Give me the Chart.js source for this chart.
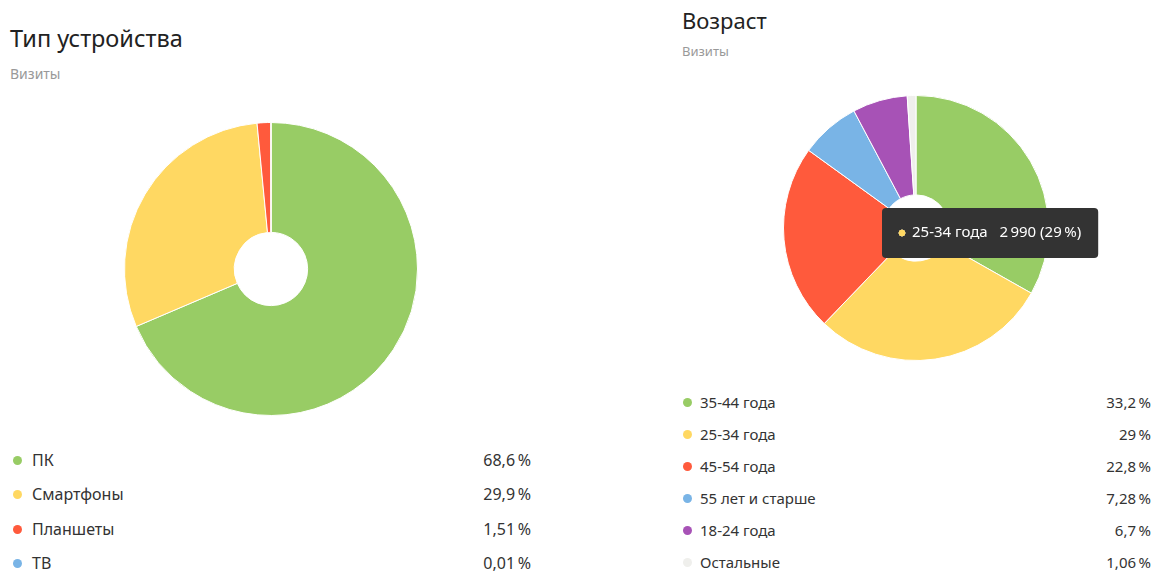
<!DOCTYPE html>
<html>
<head>
<meta charset="utf-8">
<script src="https://cdn.jsdelivr.net/npm/chart.js@4/dist/chart.umd.min.js"></script>
<style>
body { margin: 0; background: #fff; font-family: "Noto Sans", sans-serif; color: #222; }
#page { position: relative; width: 1156px; height: 572px; overflow: hidden; }
.title { position: absolute; font-size: 22px; color: #222; white-space: nowrap; }
.sub { position: absolute; font-size: 13px; color: #999; }
.legend { position: absolute; }
.row { position: absolute; left: 0; right: 0; height: 20px; font-size: 15px; line-height: 20px; color: #333; }
.big .row { font-size: 16px; }
.dot { position: absolute; left: 0; top: 6px; width: 9px; height: 9px; border-radius: 50%; }
.lbl { position: absolute; white-space: nowrap; }
.pct { position: absolute; right: 0; white-space: nowrap; }
canvas { position: absolute; }
</style>
</head>
<body>
<div id="page">
  <div class="title" style="left:10px;top:22px;font-size:23.5px;">Тип устройства</div>
  <div class="sub" style="left:10px;top:64px;font-size:14px;">Визиты</div>
  <canvas id="deviceChart" style="left:124px;top:122px;width:294px;height:294px;"></canvas>
  <div class="legend big" id="deviceLegend" style="left:13px;top:450px;width:518px;"></div>

  <div class="title" style="left:682px;top:5px;">Возраст</div>
  <div class="sub" style="left:682px;top:42px;">Визиты</div>
  <canvas id="ageChart" style="left:783px;top:95px;width:322px;height:276px;"></canvas>
  <div class="legend" id="ageLegend" style="left:683px;top:392px;width:468px;"></div>
</div>

<script>
// Тип устройства, % визитов
const deviceLabels = ["ПК", "Смартфоны", "Планшеты", "ТВ"];
const deviceShare = [68.6, 29.9, 1.51, 0.01];
const deviceColors = ["#98cc65", "#ffd862", "#ff5a3c", "#79b4e6"];

// Возраст, % визитов
const ageLabels = ["35-44 года", "25-34 года", "45-54 года", "55 лет и старше", "18-24 года", "Остальные"];
const ageShare = [33.2, 29, 22.8, 7.28, 6.7, 1.06];
const ageColors = ["#98cc65", "#ffd862", "#ff5a3c", "#79b4e6", "#a752b6", "#efefec"];
const ageTotalVisits = 10310;

function fmtPct(v) {
    return String(v).replace(".", ",") + "\u2009%";
}

function fmtNum(n) {
    return String(n).replace(/\B(?=(\d{3})+(?!\d))/g, "\u2009");
}

function buildLegend(el, labels, values, colors, step, labelOffset) {
    labels.forEach(function (name, i) {
        let row = document.createElement("div");
        row.className = "row";
        row.style.top = (i * step) + "px";
        row.innerHTML =
            '<span class="dot" style="background:' + colors[i] + '"></span>' +
            '<span class="lbl" style="left:' + labelOffset + 'px">' + name + '</span>' +
            '<span class="pct">' + fmtPct(values[i]) + '</span>';
        el.appendChild(row);
    });
}

buildLegend(document.getElementById("deviceLegend"), deviceLabels, deviceShare, deviceColors, 34.3, 19);
buildLegend(document.getElementById("ageLegend"), ageLabels, ageShare, ageColors, 32, 17);

Chart.Tooltip.positioners.fixedSpot = function () {
    return { x: 99, y: 138 };
};

function doughnutOptions(extra) {
    return Object.assign({
        responsive: false,
        animation: false,
        cutout: "25%",
        events: [],
        plugins: {
            legend: { display: false },
            tooltip: { enabled: false }
        }
    }, extra);
}

new Chart(document.getElementById("deviceChart"), {
    type: "doughnut",
    data: {
        labels: deviceLabels,
        datasets: [{
            data: deviceShare,
            backgroundColor: deviceColors,
            borderColor: "#ffffff",
            borderWidth: 1,
            hoverOffset: 0
        }]
    },
    options: doughnutOptions({})
});

const ageChart = new Chart(document.getElementById("ageChart"), {
    type: "doughnut",
    data: {
        labels: ageLabels,
        datasets: [{
            data: ageShare,
            backgroundColor: ageColors,
            hoverBackgroundColor: ageColors,
            borderColor: "#ffffff",
            borderWidth: 1,
            hoverOffset: 0
        }]
    },
    options: doughnutOptions({
        layout: { padding: { left: 0, right: 56, top: 0, bottom: 10 } },
        plugins: {
            legend: { display: false },
            tooltip: {
                enabled: true,
                position: "fixedSpot",
                xAlign: "left",
                yAlign: "center",
                caretSize: 0,
                caretPadding: 0,
                backgroundColor: "#333333",
                cornerRadius: 4,
                padding: { left: 17, right: 17, top: 16, bottom: 16 },
                displayColors: true,
                usePointStyle: true,
                boxWidth: 6,
                boxHeight: 6,
                boxPadding: 5,
                bodyColor: "#ffffff",
                bodyFont: { family: "Noto Sans", size: 15 },
                callbacks: {
                    title: () => "",
                    label: function (ctx) {
                        let visits = Math.round(ageTotalVisits * ctx.raw / 100);
                        return ctx.label + "   " + fmtNum(visits) + " (" + String(ctx.raw).replace(".", ",") + "\u2009%)";
                    },
                    labelColor: function (ctx) {
                        return { borderColor: ageColors[ctx.dataIndex], backgroundColor: ageColors[ctx.dataIndex], borderWidth: 0 };
                    },
                    labelPointStyle: () => ({ pointStyle: "circle", rotation: 0 })
                }
            }
        }
    })
});

ageChart.tooltip.setActiveElements([{ datasetIndex: 0, index: 1 }], { x: 0, y: 0 });
ageChart.update();
</script>
</body>
</html>
